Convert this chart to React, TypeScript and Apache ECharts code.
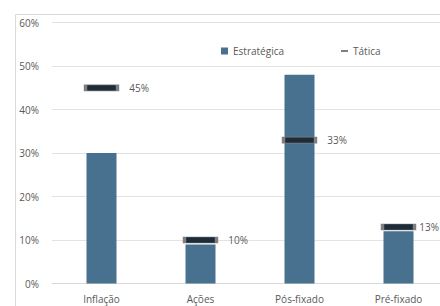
import React, { useEffect, useRef } from "react";
import * as echarts from "echarts";

const categories = ["Inflação", "Ações", "Pós-fixado", "Pré-fixado"];
const estrategica = [30, 9, 48, 12];
const tatica = [45, 10, 33, 13];
const yTicks = [0, 10, 20, 30, 40, 50, 60];

const FONT = "Open Sans";
const GREY = "#595959";

export default function App() {
  const ref = useRef<HTMLDivElement>(null);
  useEffect(() => {
    if (!ref.current) return;
    const chart = echarts.init(ref.current, undefined, { renderer: "svg" });
    chart.setOption({
      animation: false,
      textStyle: { fontFamily: FONT },
      graphic: [
        {
          type: "rect",
          shape: { x: 15.5, y: 14.5, width: 600, height: 400 },
          style: { fill: "none", stroke: "#d9d9d9", lineWidth: 1 },
          silent: true,
          z: -1,
        },
      ],
      legend: [
        {
          left: 216,
          top: 40,
          itemWidth: 7,
          itemHeight: 7,
          data: [{ name: "Estratégica", icon: "rect" }],
          textStyle: { color: GREY, fontSize: 10, fontFamily: FONT, lineHeight: 12 },
        },
        {
          left: 336,
          top: 40,
          itemWidth: 7,
          itemHeight: 2,
          data: [{ name: "Tática", icon: "rect", itemStyle: { color: "#7f7f7f", borderWidth: 0 } }],
          textStyle: { color: GREY, fontSize: 10, fontFamily: FONT, lineHeight: 12 },
        },
      ],
      grid: {
        left: 52,
        width: 396,
        top: 22.7,
        bottom: 22.5,
        containLabel: false,
        outerBoundsMode: "none",
      },
      xAxis: {
        type: "category",
        data: categories,
        axisLine: { lineStyle: { color: "#d9d9d9" } },
        axisTick: { show: false },
        axisLabel: { color: GREY, fontSize: 10, fontFamily: FONT, margin: 10 },
      },
      yAxis: {
        type: "value",
        min: yTicks[0],
        max: yTicks[yTicks.length - 1],
        interval: 10,
        axisLine: { show: false },
        axisTick: { show: false },
        splitLine: { lineStyle: { color: "#e3e3e3", width: 1 } },
        axisLabel: {
          color: GREY,
          fontSize: 10,
          fontFamily: FONT,
          margin: 13,
          formatter: (v: number) => `${v}%`,
        },
      },
      series: [
        {
          name: "Estratégica",
          type: "bar",
          data: estrategica,
          barWidth: 30,
          itemStyle: { color: "#48708f" },
        },
        {
          name: "Tática",
          type: "scatter",
          data: tatica.map((v, i) =>
            i === tatica.length - 1 ? { value: v, label: { distance: 3 } } : v
          ),
          symbol: "rect",
          symbolSize: [32, 6],
          itemStyle: { color: "#1e2b38", borderColor: "#7f7f7f", borderWidth: 1.5, opacity: 1 },
          label: {
            show: true,
            position: "right",
            distance: 10,
            color: GREY,
            fontSize: 10,
            fontFamily: FONT,
            formatter: (p: any) => `${p.value}%`,
          },
          z: 5,
        },
      ],
    });
    return () => chart.dispose();
  }, []);
  return <div ref={ref} style={{ width: 440, height: 306, position: "absolute", left: 0, top: 0 }} />;
}
